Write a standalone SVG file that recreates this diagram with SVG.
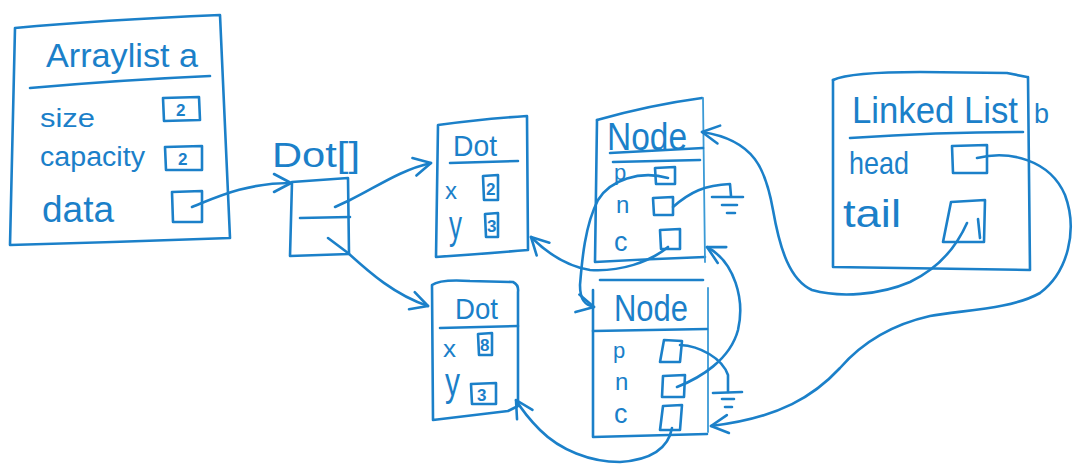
<svg xmlns="http://www.w3.org/2000/svg" width="1074" height="473" viewBox="0 0 1074 473">
  <style>
    .ink { fill: none; stroke: #1b80c9; stroke-width: 2.6; stroke-linecap: round; stroke-linejoin: round; }
    .thin { fill: none; stroke: #3a9ad6; stroke-width: 1.8; stroke-linecap: round; stroke-linejoin: round; }
    .wire { fill: none; stroke: #1b80c9; stroke-width: 2.6; stroke-linecap: round; stroke-linejoin: round; marker-end: url(#arr); }
    .plain { fill: none; stroke: #1b80c9; stroke-width: 2.6; stroke-linecap: round; stroke-linejoin: round; }
    text { fill: #1b80c9; font-family: "Liberation Sans", Arial, sans-serif; }
    .val { font-size: 17px; font-weight: bold; }
  </style>
  <defs>
    <marker id="arr" viewBox="0 0 22 22" refX="20" refY="11" markerWidth="22" markerHeight="22" markerUnits="userSpaceOnUse" orient="auto">
      <path d="M3,2 L20,11 L3,20" fill="none" stroke="#1b80c9" stroke-width="2.6" stroke-linecap="round" stroke-linejoin="round"/>
    </marker>
  </defs>
  <rect width="1074" height="473" fill="#ffffff"/>

  <!-- ArrayList a -->
  <g id="arraylist-a">
    <path class="ink" d="M15,28 Q100,20 220,15 L230,238 Q120,242 10,245 Z"/>
    <path class="ink" d="M30,88 Q120,80 210,76"/>
    <text x="46" y="67" font-size="34" textLength="152" lengthAdjust="spacingAndGlyphs">Arraylist a</text>
    <text x="40" y="127" font-size="25" textLength="55" lengthAdjust="spacingAndGlyphs">size</text>
    <path class="ink" d="M163,98 L199,97 L200,120 L164,121 Z"/>
    <text class="val" x="176" y="116">2</text>
    <text x="40" y="166" font-size="27" textLength="105" lengthAdjust="spacingAndGlyphs">capacity</text>
    <path class="ink" d="M165,147 L202,146 L202,170 L166,170 Z"/>
    <text class="val" x="178" y="165">2</text>
    <text x="42" y="222" font-size="36" textLength="72" lengthAdjust="spacingAndGlyphs">data</text>
    <path class="ink" d="M172,192 L202,191 L202,222 L173,222 Z"/>
  </g>

  <!-- Dot[] array -->
  <g id="dot-array">
    <text x="272" y="167" font-size="35" textLength="88" lengthAdjust="spacingAndGlyphs">Dot[]</text>
    <path class="ink" d="M292,182 L348,178 L349,254 L290,256 Z"/>
    <path class="ink" d="M300,218 L350,217"/>
  </g>

  <!-- Dot (2,3) -->
  <g id="dot-1">
    <path class="ink" d="M438,125 Q480,119 527,116 L528,250 Q480,254 436,257 Z"/>
    <text x="453" y="156" font-size="29" textLength="44" lengthAdjust="spacingAndGlyphs">Dot</text>
    <path class="ink" d="M450,163 L518,161"/>
    <text x="445" y="199" font-size="24" textLength="12" lengthAdjust="spacingAndGlyphs">x</text>
    <path class="ink" d="M483,176 L498,175 L498,200 L484,200 Z"/>
    <text class="val" x="486" y="195" font-size="15">2</text>
    <text x="449" y="239" font-size="40" textLength="13" lengthAdjust="spacingAndGlyphs">y</text>
    <path class="ink" d="M485,214 L498,213 L498,237 L486,237 Z"/>
    <text class="val" x="487" y="232" font-size="15">3</text>
  </g>

  <!-- Dot (8,3) -->
  <g id="dot-2">
    <path class="ink" d="M432,285 Q440,279 470,281 L513,282 Q519,285 518,292 L518,406 L508,411 L433,420 Z"/>
    <text x="455" y="319" font-size="29" textLength="43" lengthAdjust="spacingAndGlyphs">Dot</text>
    <path class="ink" d="M440,328 L518,326"/>
    <text x="443" y="357" font-size="24" textLength="13" lengthAdjust="spacingAndGlyphs">x</text>
    <path class="ink" d="M478,334 L492,333 L492,355 L479,355 Z"/>
    <text class="val" x="480" y="351" font-size="14">8</text>
    <text x="445" y="396" font-size="40" textLength="15" lengthAdjust="spacingAndGlyphs">y</text>
    <path class="ink" d="M471,384 L496,383 L496,404 L472,404 Z"/>
    <text class="val" x="477" y="401" font-size="17">3</text>
  </g>

  <!-- Node (upper) -->
  <g id="node-1">
    <path class="ink" d="M597,120 Q650,105 702,98"/>
    <path class="ink" d="M597,120 L595,262 Q650,259 705,257"/>
    <path class="thin" d="M703,98 L705,262"/>
    <text x="607" y="150" font-size="38" textLength="80" lengthAdjust="spacingAndGlyphs">Node</text>
    <path class="ink" d="M610,153 L703,148"/>
    <path class="ink" d="M613,162 L700,160"/>
    <text x="614" y="180" font-size="22">p</text>
    <path class="ink" d="M655,168 L675,167 L675,184 L656,184 Z"/>
    <text x="616" y="213" font-size="24">n</text>
    <path class="ink" d="M653,198 L673,197 L673,215 L654,215 Z"/>
    <text x="614" y="251" font-size="27">c</text>
    <path class="ink" d="M660,230 L680,229 L680,249 L661,249 Z"/>
  </g>

  <!-- Node (lower) -->
  <g id="node-2">
    <path class="ink" d="M600,280 L703,280"/>
    <path class="ink" d="M593,290 L593,437 L707,434"/>
    <path class="thin" d="M708,288 L708,432"/>
    <text x="614" y="321" font-size="36" textLength="74" lengthAdjust="spacingAndGlyphs">Node</text>
    <path class="ink" d="M593,331 L707,329"/>
    <text x="613" y="358" font-size="22">p</text>
    <path class="ink" d="M664,340 L682,341 L680,362 L660,362 Z"/>
    <text x="615" y="390" font-size="24">n</text>
    <path class="ink" d="M663,376 L685,375 L684,397 L662,397 Z"/>
    <text x="614" y="423" font-size="27">c</text>
    <path class="ink" d="M663,406 L682,405 L680,430 L660,430 Z"/>
  </g>

  <!-- LinkedList b -->
  <g id="linkedlist-b">
    <path class="ink" d="M833,80 Q850,72 920,72 L1007,73 L1027,77"/>
    <path class="ink" d="M833,80 L833,267 L1030,270 L1028,77"/>
    <text x="852" y="123" font-size="37" textLength="166" lengthAdjust="spacingAndGlyphs">Linked List</text>
    <text x="1034" y="123" font-size="27">b</text>
    <path class="ink" d="M850,138 Q940,132 1023,132"/>
    <text x="849" y="174" font-size="32" textLength="60" lengthAdjust="spacingAndGlyphs">head</text>
    <path class="ink" d="M952,146 L987,145 L987,173 L953,173 Z"/>
    <text x="843" y="227" font-size="38" textLength="58" lengthAdjust="spacingAndGlyphs">tail</text>
    <path class="ink" d="M951,202 L985,200 L984,242 L943,242 Z"/>
    <path class="ink" d="M978,219 L980,238"/>
  </g>

  <!-- references between objects -->
  <g id="connectors">
    <path class="wire" d="M192,207 C215,198 245,183 291,183"/>
    <path class="wire" d="M335,207 L350,200 C375,188 400,170 431,163"/>
    <path class="wire" d="M328,238 L348,253 C370,273 395,295 428,306"/>
    <path class="wire" d="M668,247 C650,262 620,272 590,270 C565,266 546,252 531,237"/>
    <path class="wire" d="M668,178 C640,170 610,180 598,200 C585,225 582,260 580,285 C580,300 585,305 594,307"/>
    <path class="plain" d="M673,207 C690,192 705,185 730,184 L731,196"/>
    <path class="plain" d="M712,197 L743,197 M722,205 L737,205 M727,213 L735,213"/>
    <path class="plain" d="M680,345 C700,346 722,358 728,375 L728,392"/>
    <path class="plain" d="M713,393 L742,392 M722,399 L734,399 M725,407 L732,407"/>
    <path class="wire" d="M677,387 C700,378 730,360 738,330 C745,300 735,262 707,247"/>
    <path class="wire" d="M672,428 C668,450 650,460 620,462 C590,462 560,450 540,430 C530,420 522,410 516,400"/>
    <path class="wire" d="M977,158 C1010,150 1050,160 1065,195 C1078,230 1068,272 1040,293 C1010,310 960,310 930,316 C890,325 860,345 840,368 C815,395 780,418 711,426"/>
    <path class="wire" d="M967,223 C955,250 935,270 910,282 C880,295 840,298 812,290 C790,280 780,250 773,210 C766,170 755,140 702,132"/>
  </g>
</svg>
